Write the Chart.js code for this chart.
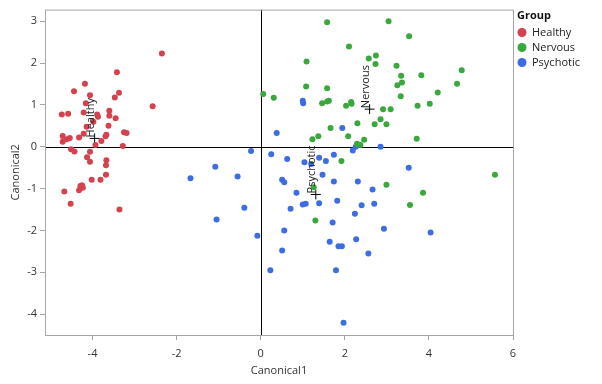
<!DOCTYPE html>
<html>
<head>
<meta charset="utf-8">
<script src="https://cdn.jsdelivr.net/npm/chart.js@4"></script>
<style>
  html, body { margin: 0; padding: 0; background: #fff; }
  #wrap { width: 602px; height: 384px; }
</style>
</head>
<body>
<div id="wrap"><canvas id="chart" width="602" height="384"></canvas></div>
<script>
// ── Data ────────────────────────────────────────────────────────────
const GROUPS = ['Healthy', 'Nervous', 'Psychotic'];
const GROUP_COLORS = ['#d4424f', '#3aa83c', '#3d6de0'];

const healthyX = [-2.35, -3.42, -4.18, -4.44, -4.06, -3.37, -3.47, -4.16, -2.57, -3.60, -4.21, -4.73, -4.58,
  -3.89, -3.87, -3.60, -3.45, -3.98, -3.62, -4.14, -3.25, -3.19, -4.21, -3.67, -3.69, -4.71, -4.54, -4.61,
  -4.32, -4.71, -3.79, -3.93, -3.28, -4.51, -4.43, -4.06, -4.13, -3.67, -4.06, -3.68, -3.68, -4.02, -3.81,
  -4.29, -4.23, -4.32, -4.25, -4.67, -4.52, -3.36];
const healthyY = [2.23, 1.78, 1.51, 1.33, 1.23, 1.29, 1.18, 1.04, 0.97, 0.86, 0.82, 0.77, 0.79,
  0.77, 0.72, 0.74, 0.68, 0.60, 0.50, 0.48, 0.35, 0.33, 0.31, 0.29, 0.25, 0.26, 0.21, 0.18,
  0.22, 0.12, 0.14, 0.04, 0.02, -0.06, -0.11, -0.12, -0.25, -0.32, -0.36, -0.44, -0.67, -0.79, -0.79,
  -0.94, -0.98, -1.04, -0.92, -1.07, -1.36, -1.50];

const nervousX = [1.58, 2.10, 1.09, 2.57, 2.74, 2.73, 1.08, 1.58, 0.06, 0.31, 1.46, 1.58, 1.62, 2.03, 2.15,
  2.16, 2.71, 2.30, 1.66, 2.08, 1.37, 1.23, 2.46, 2.29, 2.33, 2.37, 1.92, 3.04, 3.53, 3.23, 3.34, 3.82,
  4.78, 3.36, 3.25, 4.67, 4.21, 3.33, 4.02, 3.73, 2.91, 3.09, 2.85, 2.99, 3.71, 1.26, 1.30, 5.57, 2.99,
  3.86, 3.55];
const nervousY = [2.98, 2.40, 2.04, 2.11, 2.18, 1.98, 1.44, 1.40, 1.26, 1.17, 1.04, 1.08, 1.10, 0.98, 1.07,
  1.03, 0.54, 0.56, 0.45, 0.25, 0.25, 0.18, 0.17, 0.07, 0.05, 0.04, -0.34, 3.00, 2.64, 1.94, 1.70, 1.71,
  1.83, 1.54, 1.47, 1.51, 1.30, 1.21, 1.03, 0.98, 0.90, 0.90, 0.66, 0.54, 0.19, -0.97, -1.76, -0.67, -0.91,
  -1.10, -1.39];

const psychoticX = [-1.67, -1.08, -0.55, -1.05, 1.00, 1.01, 0.38, 1.94, 2.19, 2.26, 2.85, -0.23, 0.25, 0.63,
  1.04, 1.39, 1.55, 1.74, 1.20, 1.47, 0.51, 0.56, 1.74, 2.31, 2.66, 0.85, 1.82, 1.39, 1.00, 1.07, 0.71,
  2.70, 2.40, -0.39, 2.24, 1.71, 0.56, -0.08, 2.27, 1.64, 1.85, 1.93, 2.56, 0.51, 0.23, 1.79, 1.97, 3.52,
  2.93, 4.04];
const psychoticY = [-0.75, -0.48, -0.71, -1.74, 1.10, 1.04, 0.33, 0.45, -0.09, 0.00, 0.00, -0.10, -0.18, -0.29,
  -0.37, -0.26, -0.34, -0.19, -0.41, -0.67, -0.79, -0.85, -0.83, -0.83, -1.02, -1.10, -1.29, -1.35, -1.38,
  -1.36, -1.48, -1.36, -1.40, -1.46, -1.60, -1.81, -2.00, -2.13, -2.21, -2.27, -2.38, -2.38, -2.55, -2.48,
  -2.95, -2.95, -4.21, -0.50, -1.96, -2.05];

// group means (the "+" markers)
const centroidX = [-3.95, 2.59, 1.31];
const centroidY = [0.20, 0.90, -1.14];

const xTicks = [-4, -2, 0, 2, 4, 6];
const yTicks = [-4, -3, -2, -1, 0, 1, 2, 3];

// ── Defaults ────────────────────────────────────────────────────────
Chart.defaults.font.family = "'Open Sans', 'Noto Sans', sans-serif";
Chart.defaults.font.size = 11;
Chart.defaults.color = '#333';

const AXIS_GRAY = '#a6a6a6';
const toPts = (xs, ys) => xs.map((x, i) => ({ x, y: ys[i] }));
const seriesX = [healthyX, nervousX, psychoticX];
const seriesY = [healthyY, nervousY, psychoticY];

const datasets = GROUPS.map((g, i) => ({
  label: g,
  data: toPts(seriesX[i], seriesY[i]),
  backgroundColor: GROUP_COLORS[i],
  borderWidth: 0,
  pointRadius: 3,
}));
datasets.push({
  label: 'centroids',
  data: toPts(centroidX, centroidY),
  pointStyle: 'cross',
  pointRadius: 5,
  borderColor: '#000',
  borderWidth: 1,
});

// ── Plugins ─────────────────────────────────────────────────────────
const frame = {
  id: 'frame',
  beforeDatasetsDraw(chart) {
    const { ctx, chartArea: a, scales: { x, y } } = chart;
    ctx.save();
    ctx.lineWidth = 1;
    ctx.strokeStyle = '#000';
    const x0 = Math.round(x.getPixelForValue(0)) + 0.5;
    const y0 = Math.round(y.getPixelForValue(0)) + 0.5;
    ctx.beginPath();
    ctx.moveTo(x0, a.top); ctx.lineTo(x0, a.bottom);
    ctx.moveTo(a.left, y0); ctx.lineTo(a.right, y0);
    ctx.stroke();
    ctx.strokeStyle = AXIS_GRAY;
    ctx.strokeRect(a.left + 0.5, a.top + 0.5, a.right - a.left, a.bottom - a.top);
    ctx.restore();
  },
};

const centroidLabels = {
  id: 'centroidLabels',
  afterDatasetsDraw(chart) {
    const { ctx } = chart;
    const meta = chart.getDatasetMeta(3);
    ctx.save();
    ctx.font = "11px 'Open Sans', sans-serif";
    ctx.fillStyle = '#222';
    ctx.textAlign = 'left';
    ctx.textBaseline = 'alphabetic';
    meta.data.forEach((pt, i) => {
      ctx.save();
      ctx.translate(pt.x - 0.5, pt.y - 1);
      ctx.rotate(-Math.PI / 2);
      ctx.fillText(GROUPS[i], 0, 0);
      ctx.restore();
    });
    ctx.restore();
  },
};

const groupLegend = {
  id: 'groupLegend',
  afterDraw(chart) {
    const { ctx, chartArea: a } = chart;
    const lx = a.right + 4;
    ctx.save();
    ctx.textBaseline = 'middle';
    ctx.fillStyle = '#111';
    ctx.font = "bold 11px 'Open Sans', sans-serif";
    ctx.fillText('Group', lx, 16);
    ctx.font = "11px 'Open Sans', sans-serif";
    GROUPS.forEach((g, i) => {
      const cy = 32.5 + i * 15;
      ctx.beginPath();
      ctx.arc(lx + 5, cy, 4.5, 0, Math.PI * 2);
      ctx.fillStyle = GROUP_COLORS[i];
      ctx.fill();
      ctx.fillStyle = '#222';
      ctx.fillText(g, lx + 15, cy);
    });
    ctx.restore();
  },
};

// ── Chart ───────────────────────────────────────────────────────────
new Chart(document.getElementById('chart'), {
  type: 'scatter',
  data: { datasets },
  options: {
    responsive: false,
    animation: false,
    events: [],
    layout: { padding: { left: 0, top: 8, right: 89, bottom: 0 } },
    plugins: { legend: { display: false }, tooltip: { enabled: false } },
    scales: {
      x: {
        min: -5.13,
        max: 6,
        afterBuildTicks: (s) => { s.ticks = xTicks.map(v => ({ value: v })); },
        afterFit: (s) => { s.height = 49; },
        grid: { drawOnChartArea: false, color: AXIS_GRAY, tickLength: 5 },
        border: { display: false },
        ticks: { padding: 7, maxRotation: 0, color: '#333' },
        title: { display: true, text: 'Canonical1', color: '#333', padding: { top: 0, bottom: 7 } },
      },
      y: {
        min: -4.5,
        max: 3.28,
        afterBuildTicks: (s) => { s.ticks = yTicks.map(v => ({ value: v })); },
        afterFit: (s) => { s.width = 45; },
        grid: { drawOnChartArea: false, color: AXIS_GRAY, tickLength: 5 },
        border: { display: false },
        ticks: { padding: 3, color: '#333' },
        title: { display: true, text: 'Canonical2', color: '#333', padding: { top: 9, bottom: 0 } },
      },
    },
  },
  plugins: [frame, centroidLabels, groupLegend],
});
</script>
</body>
</html>
